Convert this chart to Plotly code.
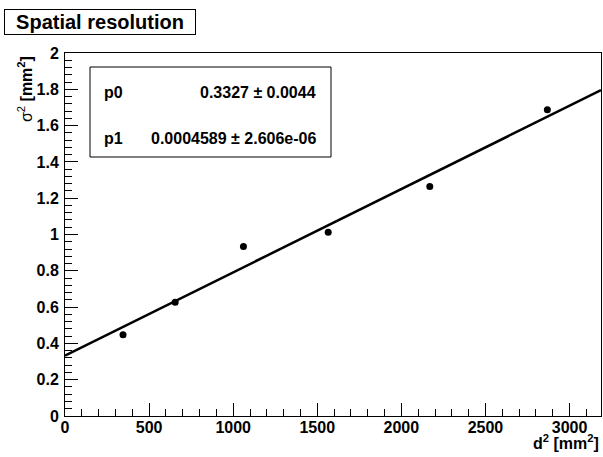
import plotly.graph_objects as go

# ---- data ----
d2 = [345, 655, 1061, 1565, 2169, 2868]          # d^2 [mm^2]
sigma2 = [0.447, 0.627, 0.934, 1.013, 1.264, 1.687]  # sigma^2 [mm^2]
p0 = 0.3327
p0_err = 0.0044
p1 = 0.0004589
p1_err = "2.606e-06"
x_range = [0, 3187]
y_range = [0, 2]

W, H = 603, 457
L, R, T, B = 65, 2, 53, 41
PW, PH = W - L - R, H - T - B


def px(x):
    return (x - L) / PW


def py(y):
    return (H - B - y) / PH


fit_x = [x_range[0], x_range[1]]
fit_y = [p0 + p1 * v for v in fit_x]

fig = go.Figure()
fig.add_trace(go.Scatter(x=fit_x, y=fit_y, mode="lines",
                         line=dict(color="black", width=2.5), hoverinfo="skip"))
fig.add_trace(go.Scatter(x=d2, y=sigma2, mode="markers",
                         marker=dict(color="black", size=7)))

font_main = "Liberation Sans, Arial, sans-serif"
axis_common = dict(showline=True, linecolor="black", linewidth=1, mirror=True,
                   ticks="inside", ticklen=13, tickwidth=1, tickcolor="black",
                   showgrid=False, zeroline=False,
                   tickfont=dict(family=font_main, size=16, color="black", weight="bold"))

fig.update_xaxes(range=x_range, dtick=500, tick0=0,
                 minor=dict(ticks="inside", ticklen=7, dtick=100, tickcolor="black"),
                 ticklabelstandoff=-3,
                 **axis_common)
fig.update_yaxes(range=y_range, dtick=0.2, tick0=0,
                 minor=dict(ticks="inside", ticklen=7, dtick=0.04, tickcolor="black"),
                 ticklabelstandoff=2,
                 **axis_common)

stat_font = dict(family=font_main, size=16, color="black")
annotations = [
    dict(text="<b>Spatial resolution</b>", xref="paper", yref="paper",
         x=px(4), y=py(9), xanchor="left", yanchor="top", showarrow=False,
         font=dict(family=font_main, size=20, color="black"),
         bordercolor="black", borderwidth=1, bgcolor="white",
         width=188, height=22, borderpad=1),
    dict(text="σ<sup>2</sup> <b>[mm<sup>2</sup>]</b>", xref="paper", yref="paper",
         x=px(25), y=py(54), xanchor="center", yanchor="top", textangle=-90,
         showarrow=False, font=dict(family=font_main, size=16, color="black")),
    dict(text="<b>d<sup>2</sup> [mm<sup>2</sup>]</b>", xref="paper", yref="paper",
         x=px(601), y=py(442), xanchor="right", yanchor="middle",
         showarrow=False, font=dict(family=font_main, size=16, color="black")),
    dict(text="<b>p0</b>", xref="paper", yref="paper", x=px(102), y=py(92),
         xanchor="left", yanchor="middle", showarrow=False, font=stat_font),
    dict(text=f"<b>{p0} ± {p0_err}</b>", xref="paper", yref="paper", x=px(318), y=py(92),
         xanchor="right", yanchor="middle", showarrow=False, font=stat_font),
    dict(text="<b>p1</b>", xref="paper", yref="paper", x=px(102), y=py(138),
         xanchor="left", yanchor="middle", showarrow=False, font=stat_font),
    dict(text=f"<b>{p1} ± {p1_err}</b>", xref="paper", yref="paper",
         x=px(318), y=py(138),
         xanchor="right", yanchor="middle", showarrow=False, font=stat_font),
]

shapes = [
    dict(type="rect", xref="paper", yref="paper", x0=px(90), x1=px(331),
         y0=py(157), y1=py(67), line=dict(color="black", width=1), fillcolor="white",
         layer="above"),
]

fig.update_layout(width=W, height=H, margin=dict(l=L, r=R, t=T, b=B, autoexpand=False),
                  paper_bgcolor="white", plot_bgcolor="white", showlegend=False,
                  annotations=annotations, shapes=shapes)

fig.write_html("out.html", config={"displayModeBar": False},
               post_script="document.body.style.margin='0';document.body.style.padding='0';")
